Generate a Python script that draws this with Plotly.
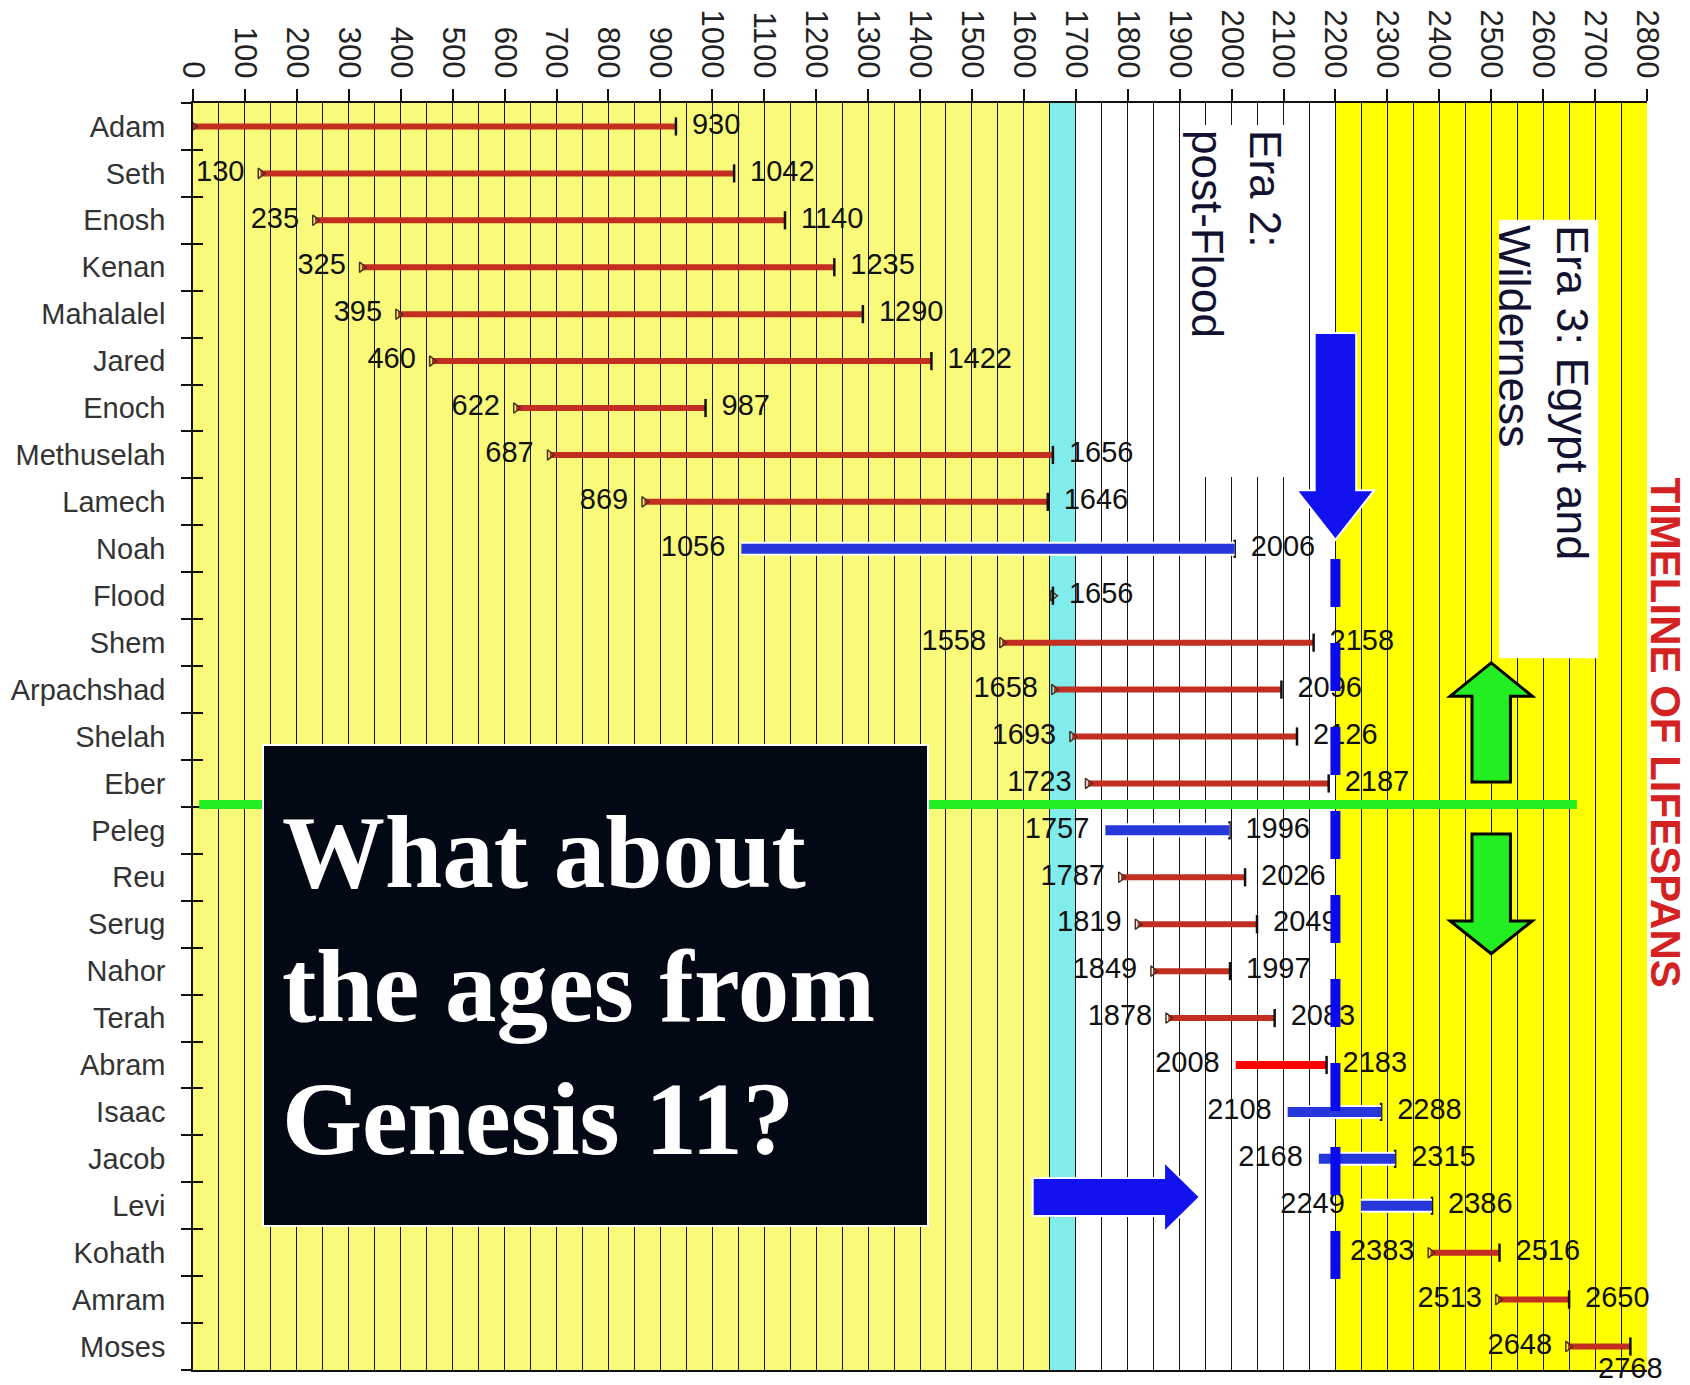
import plotly.graph_objects as go

# rows, top to bottom
names = ["Adam", "Seth", "Enosh", "Kenan", "Mahalalel", "Jared", "Enoch", "Methuselah",
         "Lamech", "Noah", "Flood", "Shem", "Arpachshad", "Shelah", "Eber", "Peleg",
         "Reu", "Serug", "Nahor", "Terah", "Abram", "Isaac", "Jacob", "Levi", "Kohath",
         "Amram", "Moses"]
born = [0, 130, 235, 325, 395, 460, 622, 687, 869, 1056, 1656, 1558, 1658, 1693, 1723,
        1757, 1787, 1819, 1849, 1878, 2008, 2108, 2168, 2249, 2383, 2513, 2648]
died = [930, 1042, 1140, 1235, 1290, 1422, 987, 1656, 1646, 2006, 1656, 2158, 2096, 2126,
        2187, 1996, 2026, 2049, 1997, 2083, 2183, 2288, 2315, 2386, 2516, 2650, 2768]
highlighted = ["Noah", "Peleg", "Isaac", "Jacob", "Levi"]
emphasised = ["Abram"]

# background eras (years)
era_edges = [0, 1650, 1700, 2200, 2800]
era_colors = ["#FAFA7A", "#80ECEC", "#FFFFFF", "#FFFF00"]
x_ticks = list(range(0, 2801, 100))

rows = list(range(len(names)))
DARK_RED = "#C22E20"
BLUE = "#2638DA"
ARROW_BLUE = "#1212EE"
GREEN = "#22EE22"
SANS = "Liberation Sans, Arial"
CLEAR = "rgba(0,0,0,0)"


def segments(keep):
    xs, ys = [], []
    for i, (b, d) in enumerate(zip(born, died)):
        if keep(names[i]):
            xs += [b, d, None]
            ys += [i, i, None]
    return xs, ys


fig = go.Figure()

plain = lambda n: n not in highlighted and n not in emphasised
x, y = segments(plain)
fig.add_trace(go.Scatter(x=x, y=y, mode="lines", line=dict(color=DARK_RED, width=6),
                         hoverinfo="skip"))
x, y = segments(lambda n: n in emphasised)
fig.add_trace(go.Scatter(x=x, y=y, mode="lines", line=dict(color="#FF0000", width=8),
                         hoverinfo="skip"))

# start / end caps
cap_rows = [i for i in rows if plain(names[i])]
fig.add_trace(go.Scatter(
    x=[born[i] for i in cap_rows], y=cap_rows, mode="markers",
    marker=dict(symbol="triangle-right-open", size=9, color="#4a3020",
                line=dict(width=1.5, color="#4a3020")),
    hoverinfo="skip"))
fig.add_trace(go.Scatter(
    x=died, y=rows, mode="markers",
    marker=dict(symbol="line-ns", size=13, line=dict(width=2.5, color="#111")),
    hoverinfo="skip"))

x, y = segments(lambda n: n in highlighted)
fig.add_trace(go.Scatter(x=x, y=y, mode="lines", line=dict(color="white", width=14),
                         hoverinfo="skip"))
fig.add_trace(go.Scatter(x=x, y=y, mode="lines", line=dict(color=BLUE, width=10),
                         hoverinfo="skip"))

# value labels
start_rows = [i for i in rows if born[i] > 0 and names[i] != "Flood"]
fig.add_trace(go.Scatter(
    x=[born[i] for i in start_rows], y=start_rows, mode="markers+text",
    text=[str(born[i]) for i in start_rows], textposition="middle left",
    marker=dict(size=24, color=CLEAR, line=dict(width=0, color=CLEAR)),
    textfont=dict(family=SANS, size=29, color="#111"),
    cliponaxis=False, hoverinfo="skip"))
# the last label sits under its bar, at the very bottom edge
end_pos = ["bottom center" if n == "Moses" else "middle right" for n in names]
end_gap = [14 if n == "Moses" else 24 for n in names]
fig.add_trace(go.Scatter(
    x=died, y=rows, mode="markers+text", text=[str(d) for d in died],
    textposition=end_pos,
    marker=dict(size=end_gap, color=CLEAR, line=dict(width=0, color=CLEAR)),
    textfont=dict(family=SANS, size=29, color="#111"),
    cliponaxis=False, hoverinfo="skip"))

# invisible trace so the inner tick axis is drawn
boundaries = [i - 0.5 for i in range(len(names) + 1)]
fig.add_trace(go.Scatter(x=[0], y=[0], yaxis="y2", mode="markers",
                         marker=dict(opacity=0), hoverinfo="skip"))

shapes = []
for (x0, x1), c in zip(zip(era_edges[:-1], era_edges[1:]), era_colors):
    shapes.append(dict(type="rect", xref="x", yref="paper", x0=x0, x1=x1, y0=0, y1=1,
                       fillcolor=c, line_width=0, layer="below"))

# white boxes behind the era captions
shapes.append(dict(type="rect", x0=1910, x1=2136, y0=-0.03, y1=7.47,
                   fillcolor="white", line_width=0, layer="above"))
shapes.append(dict(type="rect", x0=2515, x1=2706, y0=1.99, y1=11.33,
                   fillcolor="white", line_width=0, layer="above"))

# green divider between Eber and Peleg
shapes.append(dict(type="line", x0=12, x1=2665, y0=14.45, y1=14.45,
                   line=dict(color=GREEN, width=9), layer="above"))

# dashed marker at 2200
shapes.append(dict(type="line", x0=2200, x1=2200, y0=9.22, y1=24.56,
                   line=dict(color="#0A0AF0", width=10, dash="48px,36px"), layer="above"))


def v_arrow(xc, y_tail, y_base, y_tip, shaft, head):
    return (f"M {xc - shaft},{y_tail} L {xc + shaft},{y_tail} L {xc + shaft},{y_base} "
            f"L {xc + head},{y_base} L {xc},{y_tip} L {xc - head},{y_base} "
            f"L {xc - shaft},{y_base} Z")


def h_arrow(yc, x_tail, x_base, x_tip, shaft, head):
    return (f"M {x_tail},{yc - shaft} L {x_base},{yc - shaft} L {x_base},{yc - head} "
            f"L {x_tip},{yc} L {x_base},{yc + head} L {x_base},{yc + shaft} "
            f"L {x_tail},{yc + shaft} Z")


shapes.append(dict(type="path", path=v_arrow(2200, 4.40, 7.75, 8.81, 40, 75),
                   fillcolor=ARROW_BLUE, line=dict(color="white", width=2), layer="above"))
shapes.append(dict(type="path", path=h_arrow(22.815, 1617, 1870, 1939, 0.405, 0.75),
                   fillcolor=ARROW_BLUE, line=dict(color="white", width=2), layer="above"))
shapes.append(dict(type="path", path=v_arrow(2500, 13.97, 12.14, 11.43, 37, 79),
                   fillcolor=GREEN, line=dict(color="black", width=3), layer="above"))
shapes.append(dict(type="path", path=v_arrow(2500, 15.08, 16.93, 17.63, 37, 79),
                   fillcolor=GREEN, line=dict(color="black", width=3), layer="above"))

annotations = [
    dict(x=2010, y=0.03, xanchor="center", yanchor="top", textangle=90, align="left",
         text="Era 2:<br>post-Flood", showarrow=False,
         font=dict(family=SANS, size=44, color="#121230")),
    dict(x=2600, y=2.05, xanchor="center", yanchor="top", textangle=90, align="left",
         text="Era 3: Egypt and<br>Wilderness", showarrow=False,
         font=dict(family=SANS, size=45, color="#121230")),
    dict(xref="paper", yref="paper", x=1.0125, y=0.503, xanchor="center", yanchor="middle",
         textangle=90, text="<b>TIMELINE OF LIFESPANS</b>", showarrow=False,
         font=dict(family=SANS, size=42, color="#D42222")),
    dict(x=775, y=18.3, xanchor="center", yanchor="middle", align="left", valign="middle",
         width=627, height=443, borderpad=18, borderwidth=2, bordercolor="white",
         bgcolor="#020814", showarrow=False,
         text="<b>What about<br>the ages from<br>Genesis 11?</b>",
         font=dict(family="Liberation Serif, Times New Roman", size=103, color="white")),
]

# the page body adds an 8px offset, so the figure is 8px smaller on each axis
fig.update_layout(
    width=1682, height=1377,
    margin=dict(l=185, r=43, t=95, b=15, autoexpand=False),
    paper_bgcolor="white", plot_bgcolor="white",
    showlegend=False,
    shapes=shapes, annotations=annotations,
    xaxis=dict(
        side="top", range=[0, 2800], tickvals=x_ticks, tickangle=90, automargin=False,
        ticks="outside", ticklen=12, tickcolor="#111", tickwidth=1.5,
        tickfont=dict(family=SANS, size=31, color="#222"),
        showgrid=True, gridcolor="#151515", gridwidth=1.2,
        minor=dict(dtick=50, tick0=0, showgrid=True, gridcolor="#151515", gridwidth=1.2),
        showline=True, mirror=True, linecolor="#111", linewidth=1.5, zeroline=False,
    ),
    yaxis=dict(
        range=[len(names) - 0.5, -0.5], tickmode="array", tickvals=rows, ticktext=names,
        automargin=False,
        ticks="outside", ticklen=20, tickcolor="rgba(0,0,0,0)",
        tickfont=dict(family=SANS, size=29, color="#333"),
        minor=dict(tickmode="array", tickvals=boundaries, ticks="outside", ticklen=10,
                   tickcolor="#111", tickwidth=1.5, showgrid=False),
        showgrid=False, zeroline=False, showline=True, linecolor="#111", linewidth=1.5,
    ),
    yaxis2=dict(
        overlaying="y", side="left", range=[len(names) - 0.5, -0.5], automargin=False,
        tickmode="array", tickvals=boundaries, ticks="inside", ticklen=10,
        tickcolor="#111", tickwidth=1.5, showticklabels=False,
        showgrid=False, zeroline=False, showline=False,
    ),
)

fig.write_html("out.html")
